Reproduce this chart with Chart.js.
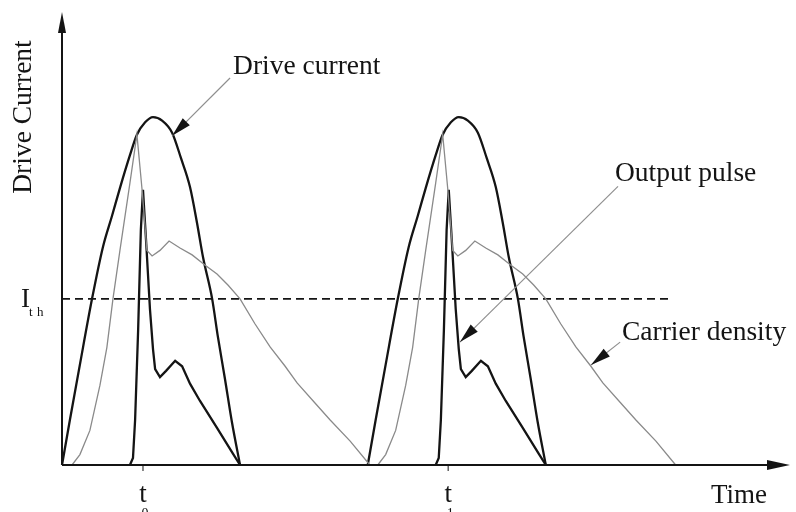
<!DOCTYPE html>
<html>
<head>
<meta charset="utf-8">
<script src="https://cdn.jsdelivr.net/npm/chart.js@4.4.1/dist/chart.umd.min.js"></script>
<style>
  html, body { margin: 0; padding: 0; background: #fff; }
</style>
</head>
<body>
<canvas id="chart" width="796" height="512"></canvas>
<script>
// time in arbitrary units, one drive period is about 10 units; null breaks the line between pulses
const driveT = [0, 0.26, 0.59, 0.99, 1.35, 1.65, 1.91, 2.24, 2.47, 2.74, 3.0, 3.3, 3.63, 3.92, 4.22, 4.45, 4.65, 4.95, 5.14, 5.37, 5.6, 5.87, 8,
  10.08, 10.34, 10.67, 11.07, 11.43, 11.73, 11.99, 12.32, 12.55, 12.82, 13.08, 13.38, 13.71, 14.0, 14.3, 14.53, 14.73, 15.03, 15.22, 15.45, 15.68, 15.95];
const driveI = [0, 13, 29, 48, 63, 72, 80, 89.5, 95.4, 99, 100.5, 99.5, 96, 88.7, 80.3, 70, 60, 48, 37, 25, 12.5, 0, null,
  0, 13, 29, 48, 63, 72, 80, 89.5, 95.4, 99, 100.5, 99.5, 96, 88.7, 80.3, 70, 60, 48, 37, 25, 12.5, 0];

const carrierT = [0, 0.33, 0.59, 0.92, 1.25, 1.48, 1.68, 1.91, 2.24, 2.47, 2.64, 2.8, 2.97, 3.23, 3.53, 3.89, 4.29, 4.71, 5.11, 5.47, 5.87, 6.36, 6.86, 7.35, 7.75, 8.34, 8.84, 9.5, 10.15,
  10.41, 10.67, 11.0, 11.33, 11.56, 11.76, 11.99, 12.32, 12.55, 12.72, 12.88, 13.05, 13.31, 13.61, 13.97, 14.37, 14.79, 15.19, 15.55, 15.95, 16.44, 16.94, 17.43, 17.83, 18.42, 18.92, 19.58, 20.23];
const carrierN = [0, 0, 3, 10, 23, 34, 48, 62, 81.5, 95.5, 79.5, 62, 60.4, 62, 64.7, 62.7, 60.7, 57.8, 55.2, 52, 48, 40.8, 34.1, 28.6, 23.7, 17.9, 13, 6.9, 0,
  0, 3, 10, 23, 34, 48, 62, 81.5, 95.5, 79.5, 62, 60.4, 62, 64.7, 62.7, 60.7, 57.8, 55.2, 52, 48, 40.8, 34.1, 28.6, 23.7, 17.9, 13, 6.9, 0];

const pulseT = [2.24, 2.34, 2.41, 2.51, 2.6, 2.67, 2.77, 2.9, 3.0, 3.07, 3.23, 3.43, 3.73, 3.96, 4.22, 4.55, 5.11, 5.64, 5.87, 9,
  12.32, 12.42, 12.49, 12.59, 12.68, 12.75, 12.85, 12.98, 13.08, 13.15, 13.31, 13.51, 13.81, 14.04, 14.3, 14.63, 15.19, 15.72, 15.95];
const pulseP = [0, 2, 13, 39, 68, 79.5, 65, 45, 33.5, 27.7, 25.4, 27.2, 30.1, 28.5, 23.5, 18.5, 10.7, 3.2, 0, null,
  0, 2, 13, 39, 68, 79.5, 65, 45, 33.5, 27.7, 25.4, 27.2, 30.1, 28.5, 23.5, 18.5, 10.7, 3.2, 0];

const thresholdT = [0, 20.11];
const thresholdI = [48, 48];

const markTimes = [2.67, 12.73];
const markSubs = ['0', '1'];

// callout text position, leader start and arrow tip, in data units
const notes = [
  { text: 'Drive current', at: [5.64, 115], from: [5.54, 111.8], to: [3.63, 95.1] },
  { text: 'Output pulse', at: [18.23, 84], from: [18.33, 80.5], to: [13.12, 35.5] },
  { text: 'Carrier density', at: [18.46, 38.2], from: [18.4, 35.5], to: [17.44, 28.9] },
];

const SERIF = '"Liberation Serif", "DejaVu Serif", serif';
const INK = '#141414';

const pts = (xs, ys) => xs.map((x, i) => ({ x, y: ys[i] }));

const arrowHead = (ctx, x0, y0, x1, y1, len, half) => {
  const a = Math.atan2(y1 - y0, x1 - x0);
  const bx = x1 - len * Math.cos(a), by = y1 - len * Math.sin(a);
  ctx.beginPath();
  ctx.moveTo(x1, y1);
  ctx.lineTo(bx + half * Math.sin(a), by - half * Math.cos(a));
  ctx.lineTo(bx - half * Math.sin(a), by + half * Math.cos(a));
  ctx.closePath();
  ctx.fill();
};

const sketch = {
  id: 'sketch',
  afterDatasetsDraw(chart) {
    const { ctx, scales: { x, y } } = chart;
    const ox = x.getPixelForValue(0), oy = y.getPixelForValue(0);
    ctx.save();
    ctx.strokeStyle = INK;
    ctx.fillStyle = INK;

    // axes with arrow heads
    ctx.lineWidth = 2;
    ctx.beginPath();
    ctx.moveTo(ox, oy); ctx.lineTo(ox, y.top + 10);
    ctx.moveTo(ox, oy); ctx.lineTo(x.right - 10, oy);
    ctx.stroke();
    arrowHead(ctx, ox, oy, ox, y.top - 3, 21, 4);
    arrowHead(ctx, ox, oy, x.right, oy, 23, 5);

    // t0, t1 marks
    ctx.lineWidth = 1;
    markTimes.forEach((t, i) => {
      const px = x.getPixelForValue(t);
      ctx.beginPath(); ctx.moveTo(px, oy); ctx.lineTo(px, oy + 6); ctx.stroke();
      ctx.textAlign = 'center';
      ctx.textBaseline = 'alphabetic';
      ctx.font = `27px ${SERIF}`;
      ctx.fillText('t', px, oy + 37);
      ctx.font = `14px ${SERIF}`;
      ctx.fillText(markSubs[i], px + 2, oy + 53);
    });

    ctx.textAlign = 'left';
    ctx.font = `27px ${SERIF}`;
    ctx.fillText('Time', 711, oy + 38);

    // threshold label
    const thY = y.getPixelForValue(thresholdI[0]);
    ctx.fillText('I', 21, thY + 8);
    ctx.font = `13px ${SERIF}`;
    ctx.fillText('t', 29, thY + 17);
    ctx.fillText('h', 37, thY + 17);

    // vertical axis title
    ctx.save();
    ctx.translate(31, 117);
    ctx.rotate(-Math.PI / 2);
    ctx.textAlign = 'center';
    ctx.font = `27.5px ${SERIF}`;
    ctx.fillText('Drive Current', 0, 0);
    ctx.restore();

    // callouts
    notes.forEach(n => {
      const fx = x.getPixelForValue(n.from[0]), fy = y.getPixelForValue(n.from[1]);
      const tx = x.getPixelForValue(n.to[0]), ty = y.getPixelForValue(n.to[1]);
      ctx.strokeStyle = '#8f8f8f';
      ctx.lineWidth = 1.2;
      ctx.beginPath(); ctx.moveTo(fx, fy); ctx.lineTo(tx, ty); ctx.stroke();
      ctx.fillStyle = INK;
      arrowHead(ctx, fx, fy, tx, ty, 20, 5);
      ctx.font = `27.5px ${SERIF}`;
      ctx.textAlign = 'left';
      ctx.textBaseline = 'middle';
      ctx.fillText(n.text, x.getPixelForValue(n.at[0]), y.getPixelForValue(n.at[1]));
    });
    ctx.restore();
  }
};

new Chart(document.getElementById('chart'), {
  type: 'line',
  data: {
    datasets: [
      { label: 'Carrier density', data: pts(carrierT, carrierN), borderColor: '#8a8a8a', borderWidth: 1.3 },
      { label: 'Threshold', data: pts(thresholdT, thresholdI), borderColor: INK, borderWidth: 1.6, borderDash: [8, 5] },
      { label: 'Drive current', data: pts(driveT, driveI), borderColor: INK, borderWidth: 2.3, cubicInterpolationMode: 'monotone' },
      { label: 'Output pulse', data: pts(pulseT, pulseP), borderColor: INK, borderWidth: 2.3 },
    ]
  },
  options: {
    responsive: false,
    devicePixelRatio: 1,
    animation: false,
    clip: false,
    spanGaps: false,
    layout: { padding: { left: 62, right: 6, top: 15, bottom: 47 } },
    elements: { point: { radius: 0 }, line: { tension: 0 } },
    plugins: { legend: { display: false }, tooltip: { enabled: false } },
    scales: {
      x: { type: 'linear', min: 0, max: 24, display: false },
      y: { min: 0, max: 130, display: false }
    }
  },
  plugins: [sketch]
});
</script>
</body>
</html>
